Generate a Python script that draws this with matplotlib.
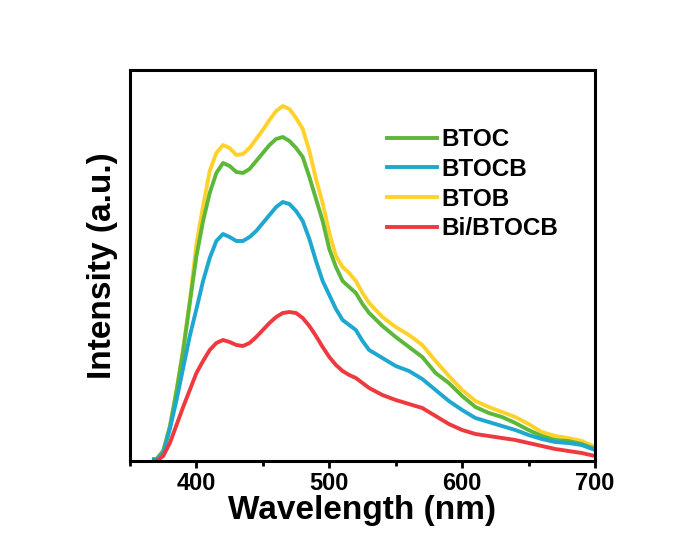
import matplotlib
matplotlib.use("Agg")
import matplotlib.pyplot as plt
from matplotlib.ticker import MultipleLocator

plt.rcParams['font.family'] = ['Liberation Sans', 'DejaVu Sans']
plt.rcParams['font.weight'] = 'bold'

# PL spectra (arbitrary units)
wavelength = [368, 370, 375, 380, 385, 390, 395, 400, 405, 410,
              415, 420, 425, 430, 435, 440, 445, 450, 455, 460,
              465, 470, 475, 480, 485, 490, 495, 500, 505, 510,
              515, 520, 525, 530, 540, 550, 560, 570, 580, 590,
              600, 610, 620, 630, 640, 650, 660, 670, 680, 690, 700]

btob = [2, 2, 10, 35, 70, 112, 160, 217, 255, 290,
        308, 316, 313, 306, 307, 313, 322, 331, 341, 350,
        355, 352, 343, 332, 310, 282, 258, 228, 205, 194,
        188, 180, 168, 158, 144, 134, 126, 116, 100, 85,
        71, 60, 54, 49, 44, 37, 29, 25, 23, 20, 14]

btoc = [2, 2, 10, 34, 70, 110, 158, 205, 240, 268,
        288, 298, 295, 289, 288, 292, 300, 308, 316, 322,
        324, 320, 313, 304, 284, 262, 240, 212, 194, 180,
        174, 168, 157, 148, 135, 124, 114, 104, 88, 78,
        65, 54, 48, 44, 38, 31, 25, 21, 20, 17, 12]

btocb = [1, 1, 8, 32, 61, 93, 125, 152, 180, 203,
         220, 227, 224, 220, 220, 224, 230, 238, 246, 254,
         259, 257, 250, 240, 222, 200, 180, 166, 152, 141,
         136, 131, 120, 111, 103, 95, 90, 82, 71, 60,
         51, 43, 39, 35, 31, 26, 22, 19, 18, 16, 11]

bi_btocb = [0, 0, 5, 18, 36, 54, 71, 88, 100, 111,
            118, 121, 119, 116, 115, 118, 124, 131, 138, 144,
            148, 149, 148, 143, 135, 125, 114, 104, 96, 90,
            86, 83, 78, 73, 66, 61, 57, 53, 45, 37,
            31, 27, 25, 23, 21, 18, 15, 12, 10, 8, 5]

fig = plt.figure(figsize=(6.78, 5.45), dpi=100)
ax = fig.add_axes([130 / 678, 84 / 545, 465 / 678, 391 / 545])

lw = 2.8
l_btob, = ax.plot(wavelength, btob, color='#FFD22B', lw=lw, label='BTOB', solid_joinstyle='round')
l_btoc, = ax.plot(wavelength, btoc, color='#5DB83A', lw=lw, label='BTOC', solid_joinstyle='round')
l_btocb, = ax.plot(wavelength, btocb, color='#1EA7CF', lw=lw, label='BTOCB', solid_joinstyle='round')
l_bi, = ax.plot(wavelength, bi_btocb, color='#EE3A3E', lw=lw, label='Bi/BTOCB', solid_joinstyle='round')

ax.set_xlim(350, 700)
ax.set_ylim(0, 391)
ax.xaxis.set_minor_locator(MultipleLocator(50))
ax.set_xticks([400, 500, 600, 700])
ax.set_yticks([])

for s in ax.spines.values():
    s.set_linewidth(2.2)
ax.tick_params(axis='x', which='major', direction='out', length=5, width=2, labelsize=17, pad=3)
ax.tick_params(axis='x', which='minor', direction='out', length=3.5, width=2)
for t in ax.get_xticklabels():
    t.set_fontweight('bold')

ax.set_xlabel('Wavelength (nm)', fontsize=24, fontweight='bold', labelpad=0)
ax.set_ylabel('Intensity (a.u.)', fontsize=24, fontweight='bold', labelpad=9)

ax.legend(handles=[l_btoc, l_btocb, l_btob, l_bi], loc='upper left',
          bbox_to_anchor=(0.553, 0.851), frameon=False,
          handlelength=2.05, handletextpad=0.2, labelspacing=0.275,
          borderpad=0, borderaxespad=0, prop={'weight': 'bold', 'size': 17.5})

fig.savefig('out.png', dpi=100, facecolor='white')
